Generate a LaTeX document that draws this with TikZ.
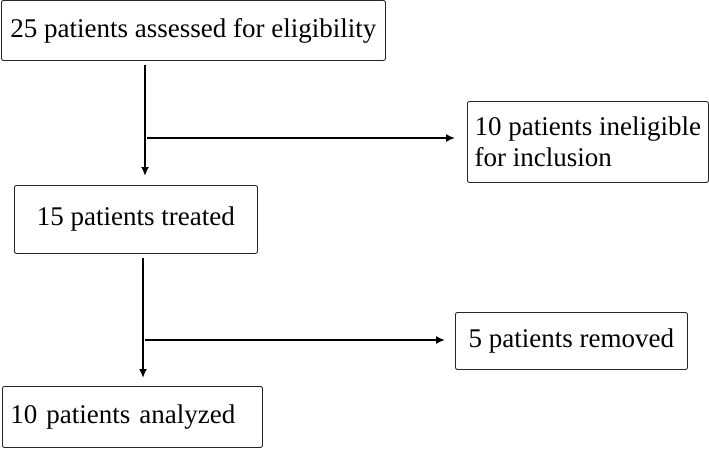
\documentclass[tikz,border=0pt]{standalone}
\usepackage{fontspec}
\setmainfont{Liberation Serif}
\usepackage{tikz}
\usetikzlibrary{arrows.meta,positioning}

\tikzset{
    flowbox/.style={draw=black!85, line width=0.9pt, rounded corners=2pt, anchor=north west, inner sep=7pt, font=\fontsize{27}{31}\selectfont},
    flowarrow/.style={-{Latex[length=9pt,width=8pt]}, line width=1.6pt}
}

\begin{document}
\begin{tikzpicture}[x=1pt, y=-1pt]
    \useasboundingbox (0,0) rectangle (709,448);

    \node[flowbox, minimum width=384pt, minimum height=60pt, align=center] (assessed) at (1,0) {25 patients assessed for eligibility};
    \node[flowbox, minimum width=241pt, minimum height=81pt, align=left] (ineligible) at (467,101) {10 patients ineligible\\for inclusion};
    \node[flowbox, minimum width=243pt, minimum height=68pt, align=center] (treated) at (14,185) {15 patients treated};
    \node[flowbox, minimum width=232pt, minimum height=57pt, align=center] (removed) at (455,312) {5 patients removed};
    \node[flowbox, inner xsep=8pt, text width=244pt, minimum height=61pt, align=left] (analyzed) at (2,386) {10 patients analyzed};

    \coordinate (stem1) at (145,0);
    \coordinate (branch1) at (147,138);
    \coordinate (stem2) at (143,0);
    \coordinate (branch2) at (145,340);

    \draw[flowarrow, line width=2pt, shorten <=4pt, shorten >=9pt] (assessed.south -| stem1) -- (treated.north -| stem1);
    \draw[flowarrow, shorten >=12pt] (branch1) -- (ineligible.west |- branch1);

    \draw[flowarrow, line width=2pt, shorten <=4pt, shorten >=8pt] (treated.south -| stem2) -- (analyzed.north -| stem2);
    \draw[flowarrow, shorten >=10pt] (branch2) -- (removed.west |- branch2);
\end{tikzpicture}
\end{document}
